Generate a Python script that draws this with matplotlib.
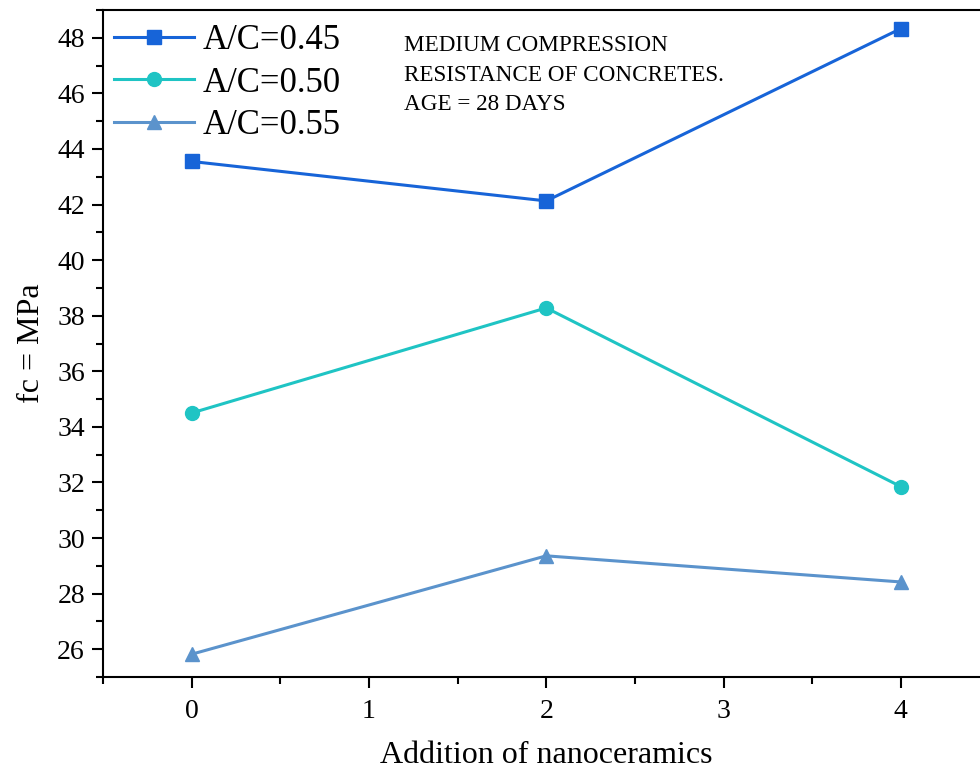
import matplotlib
matplotlib.use("Agg")
import matplotlib.pyplot as plt
from matplotlib.ticker import MultipleLocator

plt.rcParams['font.family'] = ['Liberation Serif', 'DejaVu Serif']
plt.rcParams['mathtext.fontset'] = 'stix'

x_vals = [0, 2, 4]
ac045 = [43.55, 42.13, 48.33]
ac050 = [34.50, 38.28, 31.85]
ac055 = [25.82, 29.36, 28.42]
labels = ["A/C=0.45", "A/C=0.50", "A/C=0.55"]
colors = ["#1764d8", "#1fc4c4", "#5b93cc"]
markers = ["s", "o", "^"]

fig = plt.figure(figsize=(9.8, 7.72), dpi=100)
ax = fig.add_axes([103/980, 95/772, 886.5/980, 667/772])

for ys, lab, c, m in zip([ac045, ac050, ac055], labels, colors, markers):
    ax.plot(x_vals, ys, color=c, marker=m, markersize=10, linewidth=2.2, label=lab)

ax.set_xlim(-0.5, 4.5)
ax.set_ylim(25, 49)
ax.xaxis.set_major_locator(MultipleLocator(1))
ax.xaxis.set_minor_locator(MultipleLocator(0.5))
ax.yaxis.set_major_locator(MultipleLocator(2))
ax.yaxis.set_minor_locator(MultipleLocator(1))
ax.tick_params(which='major', direction='out', length=8, width=1.5, labelsize=20)
ax.tick_params(axis='x', which='major', pad=8)
ax.tick_params(axis='y', which='major', pad=5)
ax.tick_params(which='minor', direction='out', length=5, width=1.5)
for s in ax.spines.values():
    s.set_linewidth(1.5)

ax.set_xlabel("Addition of nanoceramics", fontsize=23, labelpad=12)
ax.set_ylabel("fc = MPa", fontsize=23, labelpad=8)

ax.legend(loc='upper left', frameon=False, fontsize=25, handlelength=2.3,
          borderaxespad=0.0, labelspacing=0.28, handletextpad=0.25,
          borderpad=0.1, bbox_to_anchor=(0.0085, 0.9845))

ax.text(0.34, 0.962, "MEDIUM COMPRESSION\nRESISTANCE OF CONCRETES.\nAGE = 28 DAYS",
        transform=ax.transAxes, fontsize=16.7, va='top', ha='left', linespacing=1.53)

fig.savefig("out.png", dpi=100)
